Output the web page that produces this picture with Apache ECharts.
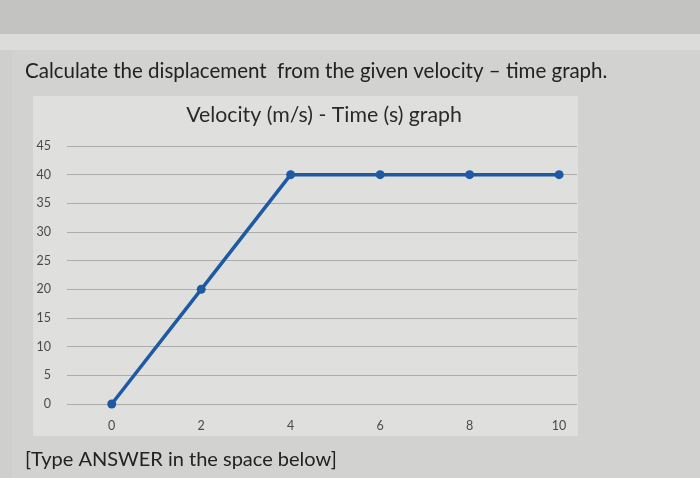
<!DOCTYPE html>
<html><head><meta charset="utf-8">
<script src="https://cdn.jsdelivr.net/npm/echarts@6/dist/echarts.min.js"></script>
<style>html,body{margin:0;padding:0;background:#cfcfcd;}#c{width:700px;height:478px;}</style>
</head><body><div id="c"></div>
<script>
var timeValues = [0, 2, 4, 6, 8, 10];
var velocityValues = [0, 20, 40, 40, 40, 40];
var xTickLabels = [0, 2, 4, 6, 8, 10];
var yTickLabels = [0, 5, 10, 15, 20, 25, 30, 35, 40, 45];
var questionText = 'Calculate the displacement  from the given velocity – time graph.';
var chartTitle = 'Velocity (m/s) - Time (s) graph';
var answerText = '[Type ANSWER in the space below]';

var chart = echarts.init(document.getElementById('c'));
chart.setOption({
  backgroundColor: '#cfcfcd',
  animation: false,
  graphic: [
    {type:'rect', shape:{x:0,y:0,width:700,height:34}, style:{fill:'#c3c3c1'}, z:-10},
    {type:'rect', shape:{x:0,y:34,width:700,height:16}, style:{fill:'#dcdcda'}, z:-10},
    {type:'rect', shape:{x:12,y:50,width:688,height:428}, style:{fill:'#d2d2d0'}, z:-9},
    {type:'rect', shape:{x:33,y:96,width:545,height:340}, style:{fill:'#dfdfdd'}, z:-8},
    {type:'text', left:25, top:61, style:{text:questionText, font:'20.5px Lato', fill:'#222'}, z:10},
    {type:'text', left:25, top:450, style:{text:answerText, font:'20px Lato', fill:'#222'}, z:10}
  ],
  title: {
    text: chartTitle, left: 319, top: 100, textAlign: 'center',
    textStyle: {fontFamily: 'Lato', fontSize: 21.3, fontWeight: 'normal', color: '#2a2a2a'}
  },
  grid: {left: 67, right: 123, top: 146, bottom: 74},
  xAxis: {
    type: 'value', min: -1, max: 10.4,
    axisLine: {show: false}, axisTick: {show: false}, splitLine: {show: false},
    axisLabel: {customValues: xTickLabels, color: '#4a4a4a', fontFamily: 'Lato', fontSize: 12.5, margin: 15}
  },
  yAxis: {
    type: 'value', min: 0, max: 45, interval: 5,
    axisLine: {show: false}, axisTick: {show: false},
    splitLine: {lineStyle: {color: '#acacaa', width: 1.2}},
    axisLabel: {color: '#4a4a4a', fontFamily: 'Lato', fontSize: 12.5, margin: 16}
  },
  series: [{
    type: 'line',
    data: timeValues.map(function (t, i) { return [t, velocityValues[i]]; }),
    lineStyle: {color: '#1d5aa3', width: 3.5},
    itemStyle: {color: '#1d5aa3'},
    symbol: 'circle', symbolSize: 9
  }]
});
</script></body></html>
